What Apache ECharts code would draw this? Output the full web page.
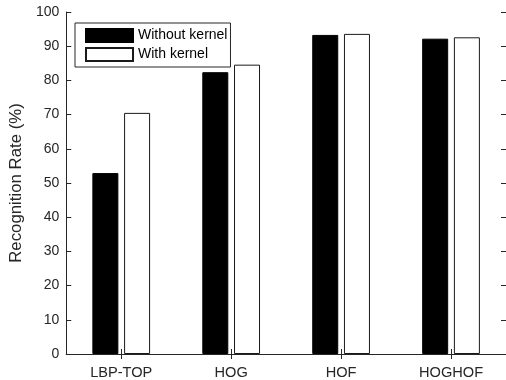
<!DOCTYPE html>
<html>
<head>
<meta charset="utf-8">
<script src="https://cdn.jsdelivr.net/npm/echarts@6/dist/echarts.min.js"></script>
<style>
  html, body { margin: 0; padding: 0; background: #fff; }
  #main { width: 506px; height: 380px; }
</style>
</head>
<body>
<div id="main"></div>
<script>
// feature sets on the x axis
const categories = ['LBP-TOP', 'HOG', 'HOF', 'HOGHOF'];
// recognition rate (%) per feature set
const withoutKernel = [52.9, 82.4, 93.3, 92.2];
const withKernel = [70.5, 84.6, 93.6, 92.6];
const seriesNames = ['Without kernel', 'With kernel'];

const ink = '#262626';
const chart = echarts.init(document.getElementById('main'), null, { renderer: 'canvas' });

const boxAxisX = {
  type: 'category',
  data: categories,
  boundaryGap: true,
  axisLine: { show: true, lineStyle: { color: ink, width: 1 } },
  axisTick: { show: true, inside: true, length: 5, alignWithLabel: true, lineStyle: { color: ink } },
  splitLine: { show: false }
};
const boxAxisY = {
  type: 'value',
  min: 0,
  max: 100,
  interval: 10,
  axisLine: { show: true, lineStyle: { color: ink, width: 1 } },
  axisTick: { show: true, inside: true, length: 5, lineStyle: { color: ink } },
  splitLine: { show: false }
};

const option = {
  backgroundColor: '#ffffff',
  animation: false,
  textStyle: { fontFamily: 'Liberation Sans, Arial, sans-serif' },
  grid: { left: 63, right: -2, top: 12, bottom: 25, containLabel: false },
  legend: {
    orient: 'vertical',
    left: 75,
    top: 23,
    padding: [5, 3, 5, 10],
    itemWidth: 47,
    itemHeight: 13,
    itemGap: 4,
    borderColor: ink,
    borderWidth: 1,
    backgroundColor: '#fff',
    icon: 'rect',
    textStyle: { fontSize: 14, color: '#000', lineHeight: 13, fontFamily: 'Liberation Sans, Arial' },
    data: seriesNames
  },
  xAxis: [
    Object.assign({}, boxAxisX, {
      position: 'bottom',
      axisLabel: { show: true, fontSize: 14.6, color: ink, margin: 11, fontFamily: 'Liberation Sans, Arial' }
    }),
    Object.assign({}, boxAxisX, {
      position: 'top',
      axisLabel: { show: false }
    })
  ],
  yAxis: [
    Object.assign({}, boxAxisY, {
      position: 'left',
      name: 'Recognition Rate (%)',
      nameLocation: 'middle',
      nameGap: 34,
      nameTextStyle: { fontSize: 16.8, color: ink, fontFamily: 'Liberation Sans, Arial' },
      axisLabel: { show: true, fontSize: 14, color: ink, margin: 7, fontFamily: 'Liberation Sans, Arial' }
    }),
    Object.assign({}, boxAxisY, {
      position: 'right',
      axisLabel: { show: false }
    })
  ],
  series: [
    {
      name: seriesNames[0],
      type: 'bar',
      data: withoutKernel,
      barWidth: 26,
      barGap: '22%',
      itemStyle: { color: '#000000', borderColor: '#000000', borderWidth: 1 }
    },
    {
      name: seriesNames[1],
      type: 'bar',
      data: withKernel,
      barWidth: 26,
      barGap: '22%',
      itemStyle: { color: '#ffffff', borderColor: '#1a1a1a', borderWidth: 1 }
    }
  ]
};

chart.setOption(option);
</script>
</body>
</html>
